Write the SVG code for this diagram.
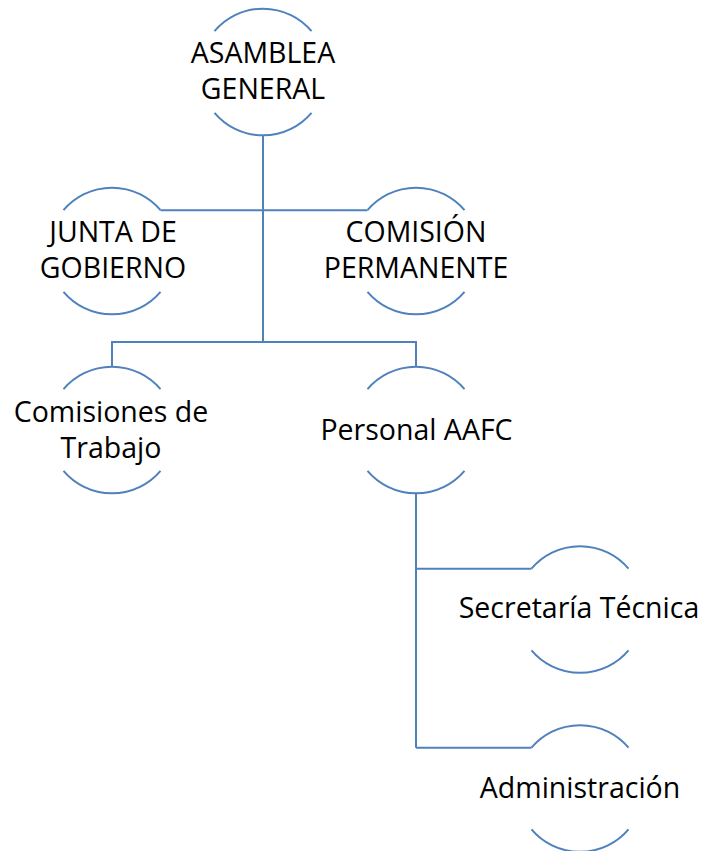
<svg xmlns="http://www.w3.org/2000/svg" width="703" height="851" viewBox="0 0 703 851">
<style>
.arc{fill:none;stroke:#4F81BD;stroke-width:2}
.con{fill:none;stroke:#4F81BD;stroke-width:2}
text{font-family:"Open Sans","Liberation Sans",sans-serif;font-size:28.5px;fill:#000;text-anchor:middle}
</style>
<rect width="703" height="851" fill="#fff"/>
<g id="connectors">
<path class="con" d="M263 135.5V342M160.5 210.2H367.5M112 366.5V342H416V366.5M416 493.5V747.7M416 568.7H531.5M416 747.7H531.5"/>
</g>
<g id="asamblea">
<path class="arc" d="M214.5 31.2A63.5 63.5 0 0 1 311.5 31.2M214.5 112.8A63.5 63.5 0 0 0 311.5 112.8"/>
<text x="263" y="63">ASAMBLEA</text><text x="263" y="99">GENERAL</text>
</g>
<g id="junta">
<path class="arc" d="M63.5 210.2A63.5 63.5 0 0 1 160.5 210.2M63.5 291.8A63.5 63.5 0 0 0 160.5 291.8"/>
<text x="113" y="242">JUNTA DE</text><text x="113" y="278">GOBIERNO</text>
</g>
<g id="comision">
<path class="arc" d="M367.5 210.2A63.5 63.5 0 0 1 464.5 210.2M367.5 291.8A63.5 63.5 0 0 0 464.5 291.8"/>
<text x="416" y="242">COMISIÓN</text><text x="416" y="278">PERMANENTE</text>
</g>
<g id="comisiones">
<path class="arc" d="M63.5 389.2A63.5 63.5 0 0 1 160.5 389.2M63.5 470.8A63.5 63.5 0 0 0 160.5 470.8"/>
<text x="111" y="422">Comisiones de</text><text x="111" y="458">Trabajo</text>
</g>
<g id="personal">
<path class="arc" d="M367.5 389.2A63.5 63.5 0 0 1 464.5 389.2M367.5 470.8A63.5 63.5 0 0 0 464.5 470.8"/>
<text x="416.5" y="440">Personal AAFC</text>
</g>
<g id="secretaria">
<path class="arc" d="M531.5 568.7A63.5 63.5 0 0 1 628.5 568.7M531.5 650.3A63.5 63.5 0 0 0 628.5 650.3"/>
<text x="579" y="618">Secretaría Técnica</text>
</g>
<g id="administracion">
<path class="arc" d="M531.5 747.7A63.5 63.5 0 0 1 628.5 747.7M531.5 829.3A63.5 63.5 0 0 0 628.5 829.3"/>
<text x="580" y="798">Administración</text>
</g>
</svg>
